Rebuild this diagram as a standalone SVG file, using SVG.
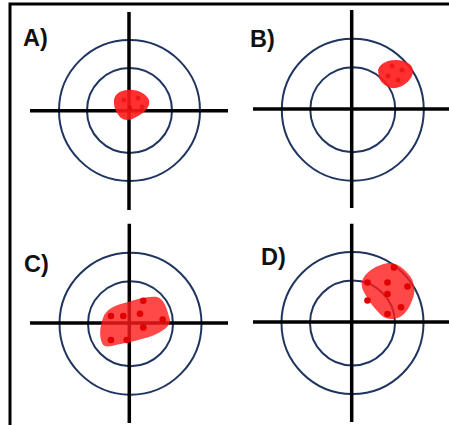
<svg xmlns="http://www.w3.org/2000/svg" width="449" height="425" viewBox="0 0 449 425">
<style>
.ring{fill:none;stroke:#1f3560;stroke-width:2}
.cross{stroke:#000;stroke-width:3.5;stroke-linecap:butt}
.blob{fill:#ff1a1a;fill-opacity:0.8}
.blob.solid{fill-opacity:0.9}
.dot{fill:#e00000}
.lbl{font-family:"Liberation Sans",Arial,sans-serif;font-weight:bold;font-size:23.5px;fill:#111}
.frame{stroke:#000;stroke-width:3;fill:none}
</style>
<rect width="449" height="425" fill="#fff"/>
<path class="frame" d="M10,425 V4 H449"/>
<g id="panelA">
  <circle class="ring" cx="129.5" cy="110.5" r="70.5"/>
  <circle class="ring" cx="129.5" cy="110.5" r="42.5"/>
  <line class="cross" x1="30" y1="110.7" x2="228" y2="110.7"/>
  <line class="cross" x1="129" y1="12" x2="129" y2="210"/>
  <path class="blob solid" d="M114,103 C113,95 120,90 128,90 C136,89 146,93 149,100 C151,107 143,114 136,117 C130,121 124,121 120,117 C116,112 114,108 114,103 Z"/>
  <g class="dot" fill-opacity="0.5"><circle cx="124" cy="100" r="2.5"/><circle cx="138" cy="98" r="2.5"/><circle cx="130" cy="108" r="2.5"/><circle cx="142" cy="107" r="2.5"/></g>
  <text class="lbl" x="23" y="46">A)</text>
</g>
<g id="panelB">
  <circle class="ring" cx="352.8" cy="109.7" r="71"/>
  <circle class="ring" cx="352.8" cy="109.7" r="42.5"/>
  <line class="cross" x1="253" y1="109" x2="449" y2="109"/>
  <line class="cross" x1="351.7" y1="10" x2="351.7" y2="208"/>
  <path class="blob solid" d="M378,70 C380,63 388,60 396,60 C405,60 413,64 413,71 C413,79 405,86 396,88 C388,89 382,84 379,78 Z"/>
  <g class="dot" fill-opacity="0.5"><circle cx="392" cy="66" r="2.5"/><circle cx="402" cy="70" r="2.5"/><circle cx="388" cy="76" r="2.5"/><circle cx="398" cy="80" r="2.5"/></g>
  <text class="lbl" x="250" y="46.5">B)</text>
</g>
<g id="panelC">
  <circle class="ring" cx="130.5" cy="323.7" r="71"/>
  <circle class="ring" cx="130.5" cy="323.7" r="42.5"/>
  <line class="cross" x1="30" y1="323" x2="228" y2="323"/>
  <line class="cross" x1="129.3" y1="223.7" x2="129.3" y2="423"/>
  <path class="blob" d="M102,343 C99,336 100,326 103,318 C106,309 115,305 128,302 C138,299 148,296 157,297 C164,299 167,308 170,320 C170,327 163,331 152,336 C140,340 125,343 112,346 C106,347 103,346 102,343 Z"/>
  <g class="dot"><circle cx="143.3" cy="300.7" r="3.3"/><circle cx="111" cy="316" r="3.3"/><circle cx="123.3" cy="316" r="3.3"/><circle cx="140" cy="313.7" r="3.3"/><circle cx="162.7" cy="319.5" r="3.3"/><circle cx="143.3" cy="327.5" r="3.3"/><circle cx="111" cy="340" r="3.3"/><circle cx="126.7" cy="340" r="3.3"/></g>
  <text class="lbl" x="24" y="272">C)</text>
</g>
<g id="panelD">
  <circle class="ring" cx="352.5" cy="323" r="71"/>
  <circle class="ring" cx="352.5" cy="323" r="42.5"/>
  <line class="cross" x1="253" y1="322" x2="449" y2="322"/>
  <line class="cross" x1="351.7" y1="223.7" x2="351.7" y2="422"/>
  <path class="blob" d="M362,281 C365,272 376,265 388,263 C396,262 404,268 410,276 C414,282 416,290 413,298 C410,306 407,313 400,317 C394,320 386,320 381,315 C375,309 369,302 365,294 C362,289 361,285 362,281 Z"/>
  <g class="dot"><circle cx="394" cy="267.5" r="3.3"/><circle cx="367.5" cy="282.5" r="3.3"/><circle cx="387.5" cy="282.5" r="3.3"/><circle cx="407.5" cy="286.5" r="3.3"/><circle cx="387.5" cy="294" r="3.3"/><circle cx="367.5" cy="300.5" r="3.3"/><circle cx="401" cy="307.3" r="3.3"/><circle cx="387.5" cy="314" r="3.3"/></g>
  <text class="lbl" x="261" y="265.3">D)</text>
</g>
</svg>
